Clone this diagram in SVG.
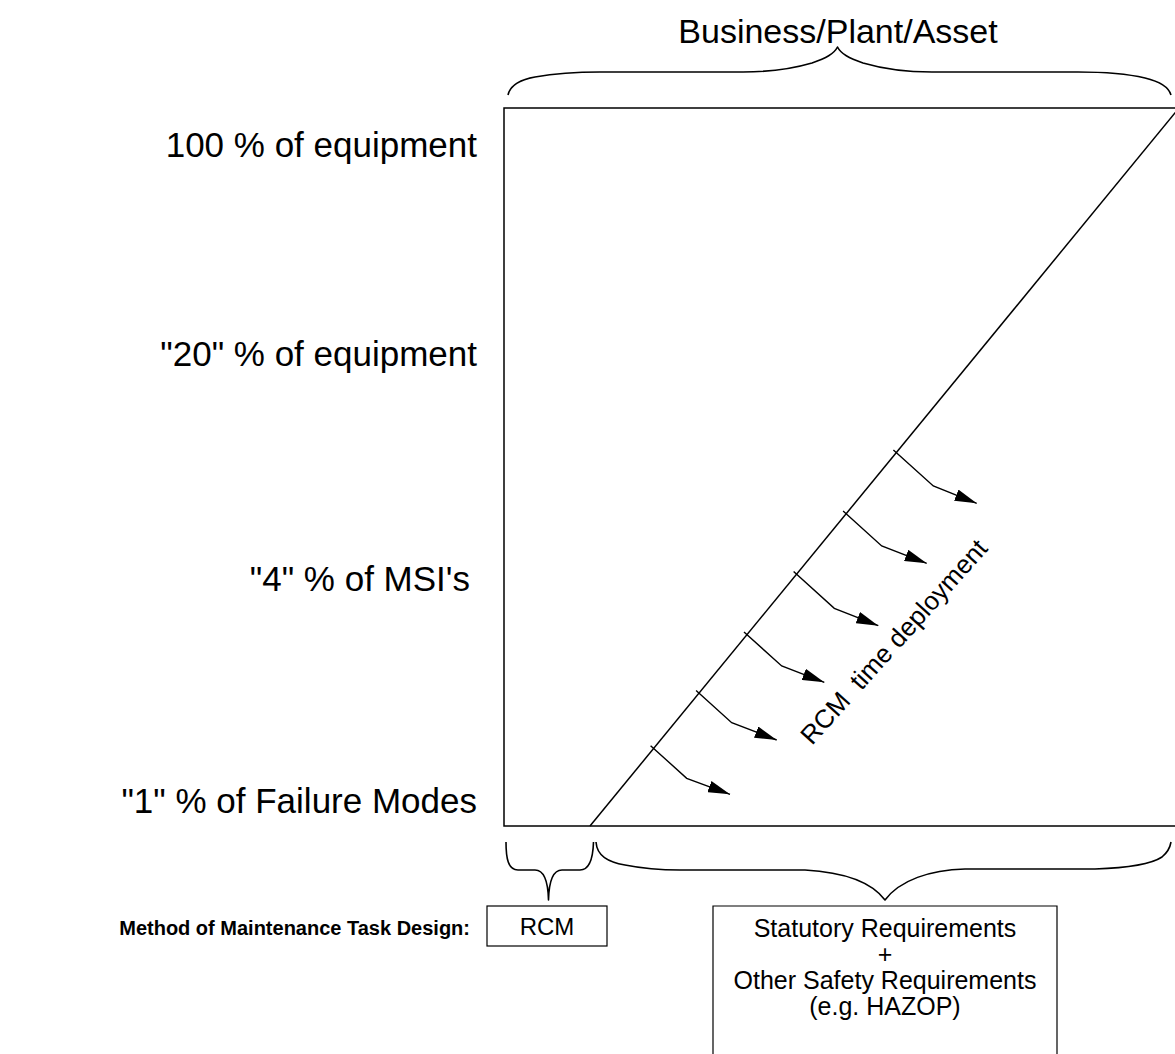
<svg xmlns="http://www.w3.org/2000/svg" width="1175" height="1054" viewBox="0 0 1175 1054">
<defs>
<style>
.ln{fill:none;stroke:#000;stroke-width:1.5}
.br{fill:none;stroke:#000;stroke-width:1.6;stroke-linejoin:round}
.t{font-family:"Liberation Sans",Arial,sans-serif;fill:#000}
.lab{font-size:35px;text-anchor:end}
.box{fill:#fff;stroke:#000;stroke-width:1.2}
.bx{font-size:25px;text-anchor:middle}
.ar{fill:none;stroke:#000;stroke-width:1.4;marker-end:url(#ah)}
</style>
<marker id="ah" markerUnits="userSpaceOnUse" markerWidth="24" markerHeight="12" refX="22" refY="6" orient="auto">
<path d="M0,0 L22,6 L0,12 z" fill="#000"/>
</marker>
</defs>
<rect width="1175" height="1054" fill="#fff"/>

<g id="title">
<text class="t" x="838" y="43" font-size="34" text-anchor="middle">Business/Plant/Asset</text>
<path class="br" d="M508,95 C510,86 518,80 535,77 C552,74 575,72 600,72 L743,72 C770,72 795,68 812,63 C826,58 834,54 837.5,47 C841,54 849,58 863,63 C880,68 905,72 932,72 L1078,72 C1105,72 1128,74 1145,78 C1162,82 1169,88 1171,95"/>
</g>

<g id="chart">
<rect class="ln" x="504" y="108" width="675" height="718"/>
<line class="ln" x1="590" y1="826" x2="1179" y2="108"/>
</g>

<g id="labels">
<text class="t lab" x="477" y="157">100 % of equipment</text>
<text class="t lab" x="477" y="366">"20" % of equipment</text>
<text class="t lab" x="470" y="591">"4" % of MSI's</text>
<text class="t lab" x="477" y="813">"1" % of Failure Modes</text>
</g>

<g id="connectors">
<polyline class="ar" points="650.6,745.7 686.7,778.3 730,794.3"/>
<polyline class="ar" points="696.1,690.5 731.7,722.7 776.7,740"/>
<polyline class="ar" points="744,631.9 781.7,666 824.3,682.3"/>
<polyline class="ar" points="793.6,571.4 834.3,608.3 878.3,625.7"/>
<polyline class="ar" points="843.1,511.1 881.7,546 926.7,563.3"/>
<polyline class="ar" points="893.4,449.9 933.3,486 976.7,503.3"/>
</g>

<g id="rcm-label">
<text class="t" x="0" y="0" font-size="26" transform="translate(812,746) rotate(-48)" xml:space="preserve">RCM  time deployment</text>
</g>

<g id="braces-bottom">
<path class="br" d="M506,842 C506,858 508,870 518,870 L535,870 C544,870 548,880 548.5,900 C549,880 553,870 562,870 L580,870 C590,870 593,858 593.5,842"/>
<path class="br" d="M596,842 C597,856 608,862 625,865 C645,869 660,870 680,870 L805,870 C840,872 870,880 885,900 C900,880 930,870 965,869 L1095,869 C1125,868 1150,865 1162,857 C1168,852 1170,848 1171,842"/>
</g>

<g id="method">
<text class="t" x="470" y="935" font-size="20" font-weight="bold" text-anchor="end">Method of Maintenance Task Design:</text>
</g>

<g id="rcm-box">
<rect class="box" x="487" y="906" width="120" height="40"/>
<text class="t" x="547" y="935" font-size="24" text-anchor="middle">RCM</text>
</g>

<g id="statutory-box">
<path class="box" d="M713,1056 L713,906 L1057,906 L1057,1056"/>
<text class="t bx" x="885" y="937">Statutory Requirements</text>
<text class="t bx" x="885" y="963">+</text>
<text class="t bx" x="885" y="989">Other Safety Requirements</text>
<text class="t bx" x="885" y="1015">(e.g. HAZOP)</text>
</g>
</svg>
